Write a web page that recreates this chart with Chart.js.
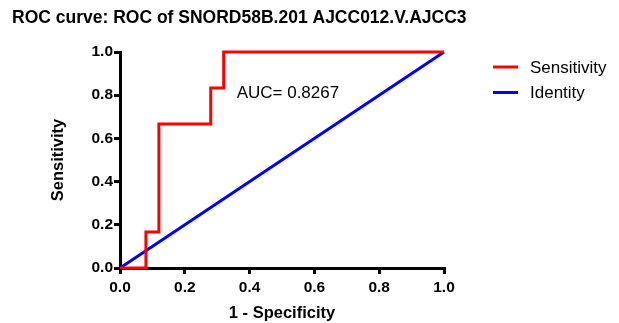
<!DOCTYPE html>
<html>
<head>
<meta charset="utf-8">
<script src="https://cdn.jsdelivr.net/npm/chart.js@4"></script>
<style>
  html, body { margin: 0; padding: 0; background: #fff; }
  #wrap { width: 619px; height: 323px; position: relative; }
</style>
</head>
<body>
<div id="wrap"><canvas id="rocChart"></canvas></div>
<script>
// ROC step curve (1 - specificity, sensitivity)
const rocX = [0, 0.08, 0.08, 0.12, 0.12, 0.28, 0.28, 0.32, 0.32, 1.0];
const rocY = [0, 0, 0.1667, 0.1667, 0.6667, 0.6667, 0.8333, 0.8333, 1.0, 1.0];
// reference diagonal
const identityX = [0, 1];
const identityY = [0, 1];
const tickValues = [0, 0.2, 0.4, 0.6, 0.8, 1.0];
const aucText = 'AUC= 0.8267';
const aucPos = [0.36, 0.81];
const titleText = 'ROC curve: ROC of SNORD58B.201 AJCC012.V.AJCC3';
const seriesNames = ['Sensitivity', 'Identity'];
const seriesColors = ['#ff0000', '#0000ff'];

const FONT = 'Arial, "Liberation Sans", sans-serif';

// title, legend and AUC label
const extrasPlugin = {
    id: 'extras',
    afterDraw(chart) {
        const ctx = chart.ctx;
        const xs = chart.scales.x, ys = chart.scales.y;
        ctx.save();
        ctx.fillStyle = '#000';
        ctx.textBaseline = 'middle';
        ctx.textAlign = 'left';
        ctx.font = 'bold 17.5px ' + FONT;
        ctx.fillText(titleText, 12, 18);

        ctx.font = '17px ' + FONT;
        ctx.fillText(aucText, xs.getPixelForValue(aucPos[0]), ys.getPixelForValue(aucPos[1]));

        // legend
        seriesNames.forEach((name, i) => {
            const y = 67 + i * 25.5;
            ctx.strokeStyle = seriesColors[i];
            ctx.lineWidth = 3;
            ctx.beginPath();
            ctx.moveTo(493, y);
            ctx.lineTo(518, y);
            ctx.stroke();
            ctx.fillText(name, 530, y + 1);
        });
        ctx.restore();
    }
};

const ctx = document.getElementById('rocChart').getContext('2d');
new Chart(ctx, {
    type: 'line',
    data: {
        datasets: [{
            label: seriesNames[0],
            data: rocX.map((x, i) => ({ x: x, y: rocY[i] })),
            borderColor: seriesColors[0],
            borderWidth: 3,
            pointRadius: 0,
            fill: false,
            tension: 0,
            clip: false
        }, {
            label: seriesNames[1],
            data: identityX.map((x, i) => ({ x: x, y: identityY[i] })),
            borderColor: seriesColors[1],
            borderWidth: 3,
            pointRadius: 0,
            fill: false,
            tension: 0,
            clip: false
        }]
    },
    options: {
        responsive: true,
        maintainAspectRatio: false,
        animation: false,
        layout: { padding: { top: 52, right: 175, left: 0, bottom: 0 } },
        plugins: {
            legend: { display: false },
            tooltip: { enabled: false }
        },
        scales: {
            x: {
                type: 'linear',
                min: 0, max: 1,
                afterFit(scale) { scale.height = 55; },
                afterBuildTicks(scale) { scale.ticks = tickValues.map(v => ({ value: v })); },
                grid: { drawOnChartArea: false, drawTicks: true, tickLength: 6, color: '#000', lineWidth: 3 },
                border: { color: '#000', width: 3 },
                ticks: {
                    color: '#000', padding: 4, maxRotation: 0,
                    font: { family: FONT, size: 15.5, weight: 'bold' },
                    callback: v => v.toFixed(1)
                },
                title: {
                    display: true, text: '1 - Specificity', color: '#000',
                    font: { family: FONT, size: 16.5, weight: 'bold' },
                    padding: { top: 2, bottom: 0 }
                }
            },
            y: {
                type: 'linear',
                min: 0, max: 1,
                afterFit(scale) { scale.width = 120; },
                afterBuildTicks(scale) { scale.ticks = tickValues.map(v => ({ value: v })); },
                grid: { drawOnChartArea: false, drawTicks: true, tickLength: 6, color: '#000', lineWidth: 3 },
                border: { color: '#000', width: 3 },
                ticks: {
                    color: '#000', padding: 1,
                    font: { family: FONT, size: 15.5, weight: 'bold' },
                    callback: v => v.toFixed(1)
                },
                title: {
                    display: true, text: 'Sensitivity', color: '#000',
                    font: { family: FONT, size: 16.5, weight: 'bold' },
                    padding: { top: 49, bottom: 0 }
                }
            }
        }
    },
    plugins: [extrasPlugin]
});
</script>
</body>
</html>
